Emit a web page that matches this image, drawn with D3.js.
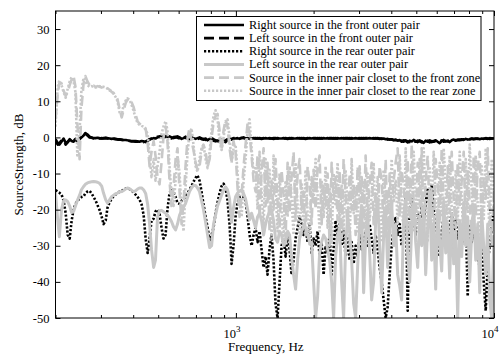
<!DOCTYPE html>
<html><head><meta charset="utf-8">
<script src="https://cdn.jsdelivr.net/npm/d3@7/dist/d3.min.js"></script>
<style>body{margin:0;background:#fff}svg{display:block}text{font-family:"Liberation Serif","Times New Roman",serif;fill:#000}</style>
</head><body><svg id="c" width="502" height="358" font-family="Liberation Serif, serif"></svg>
<script>
const freqHz=[200,204,207,211,215,219,223,227,231,235,
239,243,248,252,257,261,266,271,276,281,
286,291,296,302,307,313,318,324,330,336,
342,348,354,361,367,374,380,387,394,401,
408,416,423,431,439,447,455,463,471,480,
488,497,506,515,524,534,543,553,563,573,
584,594,605,616,627,638,650,661,673,685,
698,710,723,736,749,763,777,791,805,819,
834,849,864,880,896,912,928,945,962,979,
997,1015,1033,1052,1071,1090,1110,1130,1150,1171,
1192,1213,1235,1257,1280,1303,1326,1350,1374,1399,
1424,1450,1476,1503,1530,1558,1586,1614,1643,1673,
1703,1734,1765,1797,1829,1862,1896,1930,1965,2000,
2036,2073,2110,2148,2187,2226,2266,2307,2349,2391,
2434,2478,2523,2568,2614,2661,2709,2758,2808,2859,
2910,2962,3016,3070,3125,3181,3239,3297,3357,3417,
3479,3541,3605,3670,3736,3804,3872,3942,4013,4085,
4159,4234,4310,4388,4467,4548,4630,4713,4798,4884,
4972,5062,5153,5246,5340,5436,5534,5634,5735,5839,
5944,6051,6160,6271,6384,6499,6616,6735,6857,6980,
7106,7234,7364,7497,7632,7769,7909,8052,8197,8344,
8495,8648,8803,8962,9123,9288,9455,9625,9799,10000];

const rightFrontOuter=[-0.5,-1.5,-2,-1.2,-0.3,-1.5,-1.2,-0.5,-1,-1.2,
-0.6,-1,-0.5,0,0.5,1.2,0.8,0.2,0,-0.2,
-0.2,-0.1,-0.2,-0.3,-0.2,-0.1,-0.2,-0.3,-0.4,-0.3,
-0.4,-0.5,-0.5,-0.6,-0.7,-0.7,-0.8,-0.9,-1,-1,
-1,-1.1,-1.2,-1,-1.1,-1.3,-1,-0.6,-0.4,-0.2,
-0.3,0,0.3,0.2,0,0.4,0.2,0.3,0,-0.2,
0,0.3,0,-0.4,-0.2,0.2,-0.3,-0.5,0,-0.2,
-0.4,-0.2,0,-0.3,-0.6,-0.3,-0.8,-0.4,-0.2,-0.5,
-0.8,-1,-1.2,-0.6,-0.9,-1.3,-0.7,-0.4,-0.6,-0.3,
-0.3,-0.2,-0.4,-0.2,0,-0.3,-0.2,-0.4,-0.3,-0.2,
-0.3,-0.2,-0.3,-0.4,-0.3,-0.2,-0.3,-0.2,-0.3,-0.4,
-0.3,-0.2,-0.3,-0.3,-0.2,-0.3,-0.4,-0.3,-0.2,-0.3,
-0.3,-0.2,-0.3,-0.2,-0.3,-0.4,-0.3,-0.2,-0.3,-0.2,
-0.2,-0.3,-0.2,-0.3,-0.2,-0.3,-0.2,-0.3,-0.3,-0.2,
-0.3,-0.2,-0.3,-0.2,-0.3,-0.2,-0.2,-0.3,-0.2,-0.3,
-0.2,-0.3,-0.2,-0.3,-0.2,-0.3,-0.3,-0.2,-0.3,-0.2,
-0.3,-0.2,-0.3,-0.4,-0.3,-0.5,-0.4,-0.6,-0.5,-0.7,
-0.6,-0.9,-0.7,-1.2,-0.8,-1,-1.4,-0.9,-1.1,-0.7,
-1,-1.3,-0.8,-1.1,-1.5,-0.9,-1.2,-0.8,-1.3,-1,
-0.8,-1.2,-1.6,-1,-0.7,-1.1,-0.9,-1.3,-0.8,-0.6,
-0.9,-0.6,-0.8,-0.5,-0.7,-0.4,-0.6,-0.5,-0.3,-0.5,
-0.4,-0.3,-0.5,-0.3,-0.4,-0.2,-0.3,-0.4,-0.3,-0.3];

const leftFrontOuter=[-1,-2,-1.6,-0.8,-0.8,-2,-1.4,-0.6,-1.4,-0.9,
-0.4,-0.8,-0.3,0.2,0.8,1,0.5,0,-0.1,-0.3,
-0.3,-0.2,-0.3,-0.2,-0.3,-0.2,-0.3,-0.4,-0.3,-0.4,
-0.5,-0.6,-0.6,-0.7,-0.8,-0.8,-0.9,-1,-1.1,-1.1,
-1.2,-1.2,-1.1,-1.2,-1.3,-1.1,-0.8,-0.5,-0.3,-0.3,
-0.1,0.2,0.1,-0.1,0.3,0.1,0.2,-0.1,-0.3,0.1,
0.2,-0.1,-0.3,-0.5,0.1,-0.1,-0.4,-0.2,-0.3,0,
-0.3,-0.5,-0.2,-0.5,-0.4,-0.7,-0.5,-0.3,-0.6,-0.9,
-1.1,-0.9,-0.7,-1.1,-1,-0.8,-0.5,-0.5,-0.4,-0.2,
-0.2,-0.3,-0.3,-0.1,-0.2,-0.4,-0.3,-0.3,-0.2,-0.3,
-0.2,-0.3,-0.2,-0.3,-0.2,-0.3,-0.2,-0.3,-0.3,-0.2,
-0.2,-0.3,-0.2,-0.3,-0.3,-0.2,-0.3,-0.2,-0.3,-0.2,
-0.2,-0.3,-0.2,-0.3,-0.2,-0.3,-0.2,-0.3,-0.2,-0.3,
-0.3,-0.2,-0.3,-0.2,-0.3,-0.2,-0.3,-0.2,-0.2,-0.3,
-0.2,-0.3,-0.2,-0.3,-0.2,-0.3,-0.3,-0.2,-0.3,-0.2,
-0.3,-0.2,-0.3,-0.2,-0.3,-0.2,-0.2,-0.3,-0.2,-0.3,
-0.2,-0.3,-0.4,-0.3,-0.5,-0.4,-0.6,-0.5,-0.6,-0.8,
-0.8,-0.7,-1.1,-0.9,-1.2,-0.8,-1.1,-1.3,-0.8,-1,
-1.2,-0.9,-1.1,-1.4,-1,-1.2,-0.9,-1.4,-1,-1.2,
-1,-1.4,-1.1,-0.8,-1.2,-1,-1.1,-0.9,-0.7,-0.8,
-0.7,-0.8,-0.6,-0.7,-0.5,-0.6,-0.4,-0.5,-0.4,-0.4,
-0.3,-0.4,-0.3,-0.4,-0.3,-0.3,-0.4,-0.2,-0.3,-0.3];

const rightRearOuter=[-14.6,-15,-15.3,-15.8,-17.5,-21,-27,-28,-23,-20,
-18.5,-17.5,-17,-16.5,-16.3,-15.5,-15,-14.8,-15.5,-16.5,
-17.5,-18.8,-20,-22,-24,-23,-19.5,-18,-17,-16.2,
-15.8,-15.5,-15,-14.8,-14.5,-14.2,-14,-14.3,-14.7,-15.2,
-15.8,-16.5,-17.2,-18.5,-21.5,-28,-32,-28,-23,-22.5,
-20.5,-20,-21,-25,-28,-27,-20,-15.5,-14.3,-15,
-16.5,-18.2,-18.4,-17.5,-17,-16.5,-15.5,-14.5,-13.5,-12.3,
-11.2,-10.5,-12,-15,-18.5,-22,-25,-28.5,-27,-25,
-21,-18,-15.5,-13.5,-12.8,-14,-17.5,-24,-35,-30,
-22,-18,-16.5,-16.3,-16.5,-17.5,-22,-27,-30,-27,
-25,-29,-26,-31,-36,-33,-38,-31,-27,-34,
-46,-50,-40,-30,-28,-33,-27,-31,-38,-34,
-28,-25,-22,-24,-27,-25,-29,-24,-32,-28,
-30,-26,-33,-29,-38,-30,-32,-27,-38,-31,
-23,-27,-24,-30,-26,-33,-28,-34,-29,-35,
-30,-33,-27,-31,-29,-26,-30,-24,-28,-32,
-27,-31,-36,-40,-45,-50,-47,-38,-30,-25,
-22,-27,-24,-30,-26,-16,-48,-20,-17,-23,
-27,-21,-25,-19,-23,-18,-14,-20,-13,-19,
-24,-28,-33,-26,-22,-27,-30,-24,-21,-26,
-23,-28,-25,-30,-26,-23,-44,-24,-29,-25,
-30,-33,-36,-29,-40,-48,-35,-30,-25,-19];

const leftRearOuter=[-15.4,-22.8,-27.5,-20,-17.5,-17.3,-17.8,-19,-20.8,-20.5,
-19,-17.5,-16,-14.5,-13.6,-13,-12.6,-12.4,-12.3,-12.2,
-12.3,-12.4,-12.7,-13.5,-15.4,-17.3,-18.2,-17.3,-16.4,-16,
-15.6,-15.4,-15.1,-15,-14.7,-14.3,-14,-14.2,-14.6,-15,
-14.8,-14.3,-14,-14,-14.5,-15.5,-18.5,-24,-31,-36,
-34,-22,-20.3,-20.2,-20.6,-21,-21.5,-22.3,-23.3,-24.7,
-25.6,-24,-21.5,-20.3,-19.3,-18.3,-16.6,-15,-14,-13.3,
-13.3,-14,-15,-17.5,-20,-23.5,-27,-30.5,-30,-24,
-21.5,-19,-17.5,-16,-14.5,-13.7,-14.5,-17,-23.5,-19.5,
-16.4,-15.4,-14.8,-14.6,-15.5,-17,-20,-22.8,-21,-23,
-25,-22,-21,-23,-27,-24,-22,-20.5,-20,-23,
-28,-29,-26,-27,-30,-29,-26,-27,-33,-38,
-42,-34,-28,-26,-24.5,-25,-27,-29,-29,-40,
-50,-44,-32,-29,-27,-28,-31,-34,-40,-50,
-33,-27,-25,-40,-50,-30,-22,-26,-34,-46,
-50,-36,-24,-19,-43,-28,-21,-32,-45,-40,
-23,-17,-30,-43,-27,-20,-36,-25,-18,-30,
-24,-38,-41,-45,-22,-17,-33,-40,-25,-18,
-29,-36,-22,-30,-19,-38,-25,-16,-34,-24,
-42,-20,-29,-37,-18,-32,-24,-39,-21,-35,
-26,-50,-23,-33,-18,-30,-22,-40,-26,-19,
-34,-24,-43,-21,-30,-38,-24,-45,-50,-27];

const innerFront=[5,12,15,15,13,11.5,12.5,14.5,16,17,
14,4,-6,8,15,17,15.5,14.5,14,14.3,
14,14.2,14,13.8,14.2,14,13.6,13.2,12.6,12.3,
11.5,10.5,8,5.5,7.5,9.5,10.5,10.8,9.8,8.5,
6.5,4.5,3.8,3.5,3,2.5,-1.5,-8,-4,-1,
-5,-11,-13,-7,0,3,-1,-12,-19,-14,
-6,-3,-15,-24,-18,-8,0,2.6,-1,-3.5,
-7,-9,-8,-4,-2,-4,-8,-6,0,4,
6,6.5,2,-3.5,2,5,3,-3,-7,-1,
-4,-14,-22,-16,-8,-2,4,1,-5,-12,
-15,-5,-22,-10,-3,-19,-7,-26,-12,-20,
-6,-18,-25,-9,-16,-28,-7,-21,-11,-4,
-23,-10,-6,-20,-15,-27,-8,-13,-24,-9,
-20,-8,-5,-24,-13,-19,-10,-30,-7,-17,
-11,-23,-9,-28,-6,-16,-25,-10,-20,-13,
-27,-8,-18,-11,-25,-5,-21,-13,-7,-24,
-15,-22,-8,-12,-26,-6,-28,-10,-20,-12,
-7,-3,-22,-9,-14,-20,-6,-27,-2,-18,
-24,-7,-19,-3,-26,-12,-5,-22,-14,-28,
-6,-13,-24,-3,-18,-27,-8,-21,-4,-17,
-25,-7,-19,-12,-4,-26,-9,-18,-28,-5,
-22,-8,-4,-25,-11,-17,-3,-21,-30,-14];

const innerRear=[3,14,15.8,14.5,12.5,11,13.5,15.5,16.7,15.5,
12.5,-5,2,13,16.5,15.5,14.5,14,14.2,14,
13.8,14,14.2,14,14,13.8,13.5,13,12.8,12,
11.2,10,7,6,9,10.2,10.8,10.5,9,7.5,
5.5,4,3.5,3.2,3,2,1,-5,-11,-6,
-12,-8,-4,1,3,4.5,2,-8,-16,-19,
-12,-5,-10,-20,-26,-14,-4,1,2.5,-2,
-8,-9.5,-6,-3,-2,-6,-8.5,-4,2,6,
7.5,5,-1,-3.5,0,4,5,0,-7,-3,
-2,-10,-18,-22,-12,-6,2,5,-3,-10,
-8,-20,-4,-15,-25,-6,-18,-9,-28,-5,
-14,-26,-10,-20,-30,-12,-22,-8,-17,-27,
-7,-19,-28,-13,-24,-9,-21,-30,-11,-18,
-6,-16,-26,-12,-22,-8,-25,-14,-29,-10,
-19,-7,-24,-13,-27,-9,-18,-30,-6,-21,
-14,-26,-8,-20,-12,-28,-10,-23,-16,-7,
-25,-11,-19,-29,-9,-22,-15,-27,-6,-18,
-12,-24,-5,-17,-28,-3,-20,-11,-26,-4,
-16,-25,-6,-21,-3,-19,-29,-8,-23,-4,
-18,-28,-7,-22,-3,-14,-26,-5,-20,-33,
-9,-24,-4,-17,-30,-6,-21,-2,-15,-27,
-5,-19,-29,-8,-23,-3,-16,-26,-6,-20];

const seriesNames=["Right source in the front outer pair","Left source in the front outer pair","Right source in the rear outer pair","Left source in the rear outer pair","Source in the inner pair closet to the front zone","Source in the inner pair closet to the rear zone"];
const yTicks=[-50,-40,-30,-20,-10,0,10,20,30];
const xMajorTicks=[1000,10000];
const xMajorExp=["3","4"];
const xMinorTicks=[200,300,400,500,600,700,800,900,2000,3000,4000,5000,6000,7000,8000,9000];

const seriesValues=[rightFrontOuter,leftFrontOuter,rightRearOuter,leftRearOuter,innerFront,innerRear];
const GRAY="#c8c8c8";
const FONT="Liberation Serif, Times New Roman, serif";
const styles=[
 {color:"#000",width:2.6,dash:null},
 {color:"#000",width:2.6,dash:"10,5"},
 {color:"#000",width:2.6,dash:"2.2,1.8"},
 {color:GRAY,width:3,dash:null},
 {color:GRAY,width:2.6,dash:"10,5"},
 {color:GRAY,width:2.6,dash:"2.2,1.8"}
];

const L=55.5,R=494,T=11,B=318;
const svg=d3.select("#c");
svg.append("rect").attr("width",502).attr("height",358).attr("fill","#fff");
const x=d3.scaleLog().domain([200,10000]).range([L,R]);
const y=d3.scaleLinear().domain([-50,35]).range([B,T]);

svg.append("clipPath").attr("id","clip").append("rect").attr("x",L).attr("y",T).attr("width",R-L).attr("height",B-T);

const line=d3.line().x((d,i)=>x(freqHz[i])).y(d=>y(d));
const g=svg.append("g").attr("clip-path","url(#clip)");
seriesValues.forEach((vals,k)=>{
  const s=styles[k];
  g.append("path").datum(vals).attr("d",line).attr("fill","none")
   .attr("stroke",s.color).attr("stroke-width",s.width)
   .attr("stroke-dasharray",s.dash).attr("stroke-linejoin","round");
});

function styleAxis(sel){
  sel.attr("font-family",FONT).attr("font-size",12.5);
  sel.selectAll(".domain").remove();
  sel.selectAll(".tick line").attr("stroke","#000").attr("stroke-width",1);
  sel.selectAll("text").attr("fill","#000");
}
svg.append("g").attr("transform",`translate(0,${B})`).call(d3.axisBottom(x).tickValues(xMajorTicks).tickSizeInner(-5).tickSizeOuter(0).tickFormat("")).call(styleAxis);
svg.append("g").attr("transform",`translate(0,${B})`).call(d3.axisBottom(x).tickValues(xMinorTicks).tickSizeInner(-3).tickSizeOuter(0).tickFormat("")).call(styleAxis);
svg.append("g").attr("transform",`translate(0,${T})`).call(d3.axisTop(x).tickValues(xMajorTicks).tickSizeInner(-5).tickSizeOuter(0).tickFormat("")).call(styleAxis);
svg.append("g").attr("transform",`translate(0,${T})`).call(d3.axisTop(x).tickValues(xMinorTicks).tickSizeInner(-3).tickSizeOuter(0).tickFormat("")).call(styleAxis);
svg.append("g").attr("transform",`translate(${L},0)`).call(d3.axisLeft(y).tickValues(yTicks).tickSizeInner(-5).tickSizeOuter(0).tickPadding(6).tickFormat(d=>String(d))).call(styleAxis);
svg.append("g").attr("transform",`translate(${R},0)`).call(d3.axisRight(y).tickValues(yTicks).tickSizeInner(-5).tickSizeOuter(0).tickFormat("")).call(styleAxis);

xMajorTicks.forEach((v,i)=>{
  const t=svg.append("text").attr("x",x(v)-4).attr("y",338).attr("text-anchor","middle").attr("font-family",FONT).attr("font-size",12.5);
  t.append("tspan").text("10");
  t.append("tspan").attr("dy",-6).attr("font-size",9).text(xMajorExp[i]);
});

svg.append("rect").attr("x",L).attr("y",T).attr("width",R-L).attr("height",B-T).attr("fill","none").attr("stroke","#000").attr("stroke-width",1);

svg.append("text").attr("x",(L+R)/2-9).attr("y",351).attr("text-anchor","middle").attr("font-family",FONT).attr("font-size",13).text("Frequency, Hz");
svg.append("text").attr("transform",`translate(23,${(T+B)/2}) rotate(-90)`).attr("text-anchor","middle").attr("font-family",FONT).attr("font-size",13).text("SourceStrength, dB");

const lg=svg.append("g");
lg.append("rect").attr("x",196.5).attr("y",16.5).attr("width",284.5).attr("height",84).attr("fill","#fff").attr("stroke","#000").attr("stroke-width",1);
seriesNames.forEach((name,k)=>{
  const s=styles[k];
  const yy=25+k*13.15;
  lg.append("line").attr("x1",204).attr("x2",244).attr("y1",yy).attr("y2",yy)
    .attr("stroke",s.color).attr("stroke-width",s.width).attr("stroke-dasharray",s.dash);
  lg.append("text").attr("x",249).attr("y",yy+4).attr("font-family",FONT).attr("font-size",12.3).text(name);
});
</script></body></html>
